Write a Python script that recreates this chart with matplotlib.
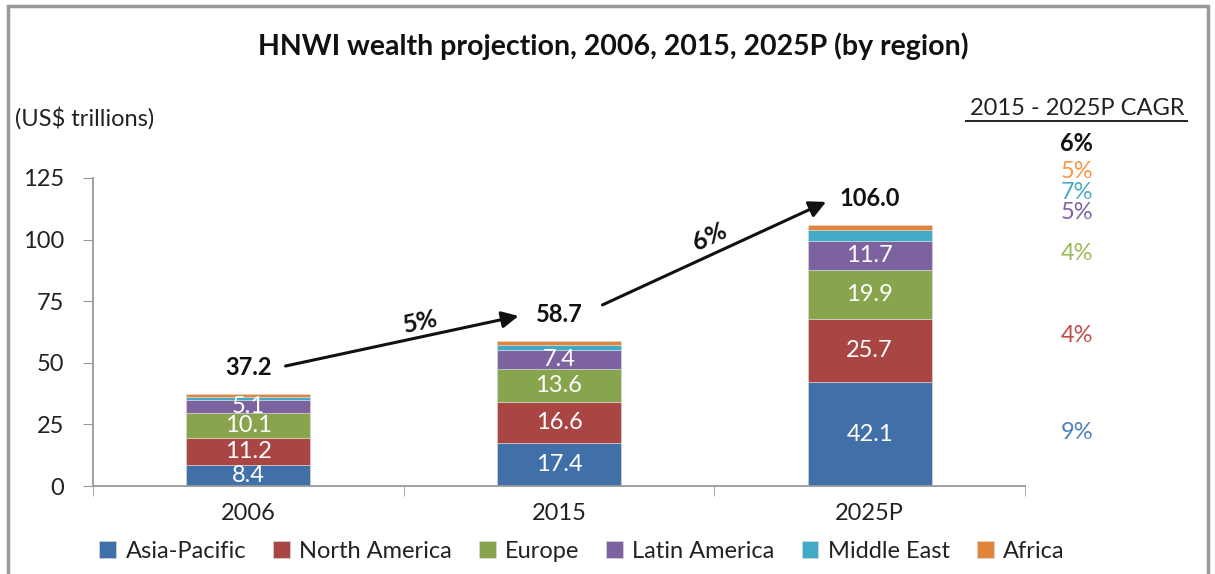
import numpy as np
import matplotlib.pyplot as plt
from matplotlib.patches import Rectangle

plt.rcParams['font.family'] = ['Lato', 'DejaVu Sans']

# data
years = ['2006', '2015', '2025P']
regions = ['Asia-Pacific', 'North America', 'Europe', 'Latin America', 'Middle East', 'Africa']
asia_pacific = [8.4, 17.4, 42.1]
north_america = [11.2, 16.6, 25.7]
europe = [10.1, 13.6, 19.9]
latin_america = [5.1, 7.4, 11.7]
middle_east = [1.5, 2.3, 4.4]
africa = [0.9, 1.4, 2.2]
totals = [37.2, 58.7, 106.0]
growth = ['5%', '6%']
cagr_total = '6%'
cagr_regions = ['9%', '4%', '4%', '5%', '7%', '5%']

bar_colors = ['#4170A8', '#A94644', '#88A44C', '#7D62A0', '#41ABC7', '#E0843C']
text_colors = ['#4F81BD', '#C0504D', '#9BBB59', '#8064A2', '#4BACC6', '#F79646']

series = [asia_pacific, north_america, europe, latin_america, middle_east, africa]
fs = 17

fig = plt.figure(figsize=(12.15, 5.74), dpi=100)
ax = fig.add_axes([0.0765, 0.1533, 0.7671, 0.5366])

x = np.arange(len(years))
bottom = np.zeros(len(years))
for i, (vals, name) in enumerate(zip(series, regions)):
    vals = np.array(vals)
    ax.bar(x, vals, 0.4, bottom=bottom, color=bar_colors[i], label=name,
           edgecolor='#dddddd', linewidth=0.4)
    if i < 4:
        for xi, b, v in zip(x, bottom, vals):
            ax.text(xi, b + v / 2, f'{v:.1f}', ha='center', va='center',
                    color='white', fontsize=fs)
    bottom += vals

ax.set_xlim(-0.5, 2.5)
ax.set_ylim(0, 125)
ax.set_yticks([0, 25, 50, 75, 100, 125])
ax.set_xticks(x)
ax.set_xticklabels(years)
ax.set_xticks([-0.5, 0.5, 1.5, 2.5], minor=True)
ax.tick_params(axis='x', which='major', length=0, pad=12, labelsize=fs, colors='#222222')
ax.tick_params(axis='x', which='minor', length=7, color='#999999', direction='out')
ax.tick_params(axis='y', length=7, color='#999999', pad=14, labelsize=fs, labelcolor='#222222')
for s in ['top', 'right']:
    ax.spines[s].set_visible(False)
for s in ['left', 'bottom']:
    ax.spines[s].set_color('#999999')
    ax.spines[s].set_linewidth(1.3)

# totals and growth arrows
offsets = [10.7, 11.1, 10.5]
for xi, t, off in zip(x, totals, offsets):
    ax.text(xi, t + off, f'{t:.1f}', ha='center', va='center', fontsize=fs,
            fontweight='bold', color='#111111', clip_on=False)

arrow_starts = [(0.12, totals[0] + 11.5), (1.14, totals[1] + 14.8)]
arrow_ends = [(0.87, totals[1] + 10.3), (1.86, totals[2] + 9.3)]
label_pos = [(0.553, 66.6, 12), (1.486, 101.0, 25)]
for (s, e, (lx, ly, rot), g) in zip(arrow_starts, arrow_ends, label_pos, growth):
    ax.annotate('', xy=e, xytext=s, annotation_clip=False,
                arrowprops=dict(arrowstyle='-|>,head_length=1.0,head_width=0.5',
                                color='#111111', lw=2.2, shrinkA=0, shrinkB=0))
    ax.text(lx, ly, g, ha='center', va='center', rotation=rot, fontsize=fs + 1,
            fontweight='bold', color='#111111', clip_on=False)

# CAGR column
cx = 2.667
ax.text(cx, 153.4, '2015 - 2025P CAGR', ha='center', va='center', fontsize=fs,
        color='#222222', clip_on=False)
ax.plot([2.31, 3.02], [148.3, 148.3], color='#222222', lw=1.4, clip_on=False)
ax.text(cx, 139.2, cagr_total, ha='center', va='center', fontsize=fs,
        fontweight='bold', color='#111111', clip_on=False)
cagr_y = [21.9, 60.9, 94.2, 110.8, 119.3, 127.8]
for lab, yy, c in zip(cagr_regions, cagr_y, text_colors):
    ax.text(cx, yy, lab, ha='center', va='center', fontsize=fs, color=c, clip_on=False)

fig.text(0.0123, 0.795, '(US$ trillions)', ha='left', va='center', fontsize=fs, color='#222222')
fig.text(0.505, 0.92, 'HNWI wealth projection, 2006, 2015, 2025P (by region)',
         ha='center', va='center', fontsize=20.5, fontweight='bold', color='#111111')

fig.legend(loc='center', bbox_to_anchor=(0.479, 0.04), ncol=6, frameon=False,
           fontsize=fs, handlelength=0.7, handleheight=0.7, handletextpad=0.4,
           columnspacing=1.15, labelcolor='#222222')

# outer frame
fig.patches.append(Rectangle((0.0066, -0.05), 0.9876, 1.04, transform=fig.transFigure,
                             fill=False, edgecolor='#999999', lw=2.5))

fig.savefig('out.png', dpi=100)
